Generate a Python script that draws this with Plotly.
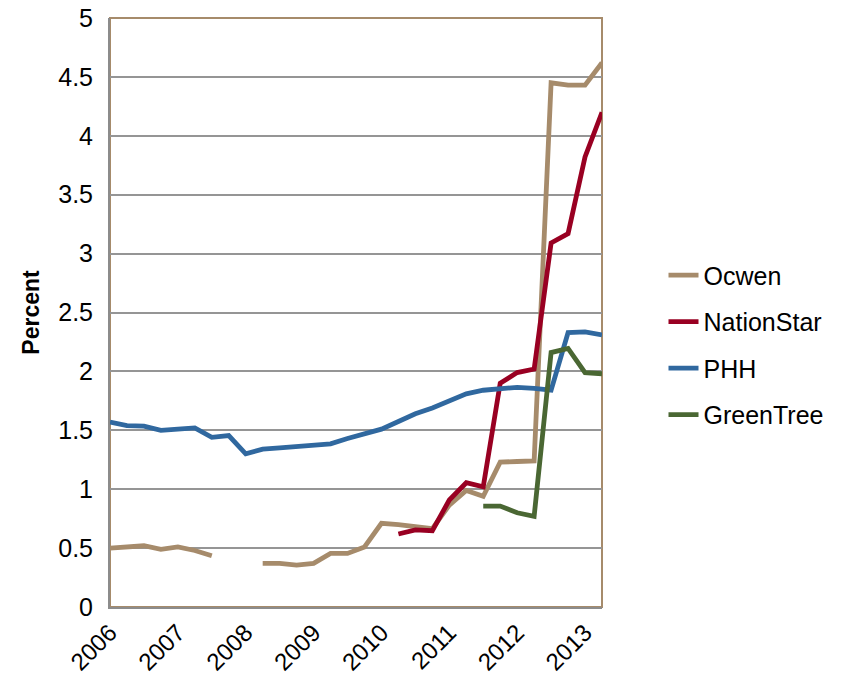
import plotly.graph_objects as go

years = list(range(2006, 2014))
quarters = [f"{y} Q{q}" for y in years for q in range(1, 5)][:30]
year_ticks = [f"{y} Q1" for y in years]
year_labels = [str(y) for y in years]

ocwen = [0.50, 0.51, 0.52, 0.49, 0.51, 0.48, 0.435, None, None, 0.37,
         0.37, 0.355, 0.37, 0.455, 0.455, 0.51, 0.71, 0.70, 0.68, 0.665,
         0.865, 0.99, 0.94, 1.23, 1.235, 1.24, 4.45, 4.43, 4.43, 4.62]
nationstar = [None] * 17 + [0.62, 0.655, 0.648, 0.908, 1.055, 1.02, 1.90,
                            1.99, 2.02, 3.09, 3.17, 3.82, 4.20]
phh = [1.57, 1.54, 1.535, 1.50, 1.51, 1.52, 1.44, 1.455, 1.30, 1.34,
       1.35, 1.36, 1.375, 1.385, 1.43, 1.47, 1.51, 1.575, 1.64, 1.69,
       1.75, 1.81, 1.84, 1.855, 1.865, 1.855, 1.84, 2.33, 2.335, 2.31]
greentree = [None] * 22 + [0.857, 0.857, 0.80, 0.77, 2.16, 2.195, 1.99, 1.98]

series = [
    ("Ocwen", ocwen, "#A68B6B"),
    ("NationStar", nationstar, "#990022"),
    ("PHH", phh, "#30689F"),
    ("GreenTree", greentree, "#4A6733"),
]

fig = go.Figure()
for name, vals, color in series:
    fig.add_trace(go.Scatter(
        x=quarters, y=vals, name=name, mode="lines",
        line=dict(color=color, width=4.8),
        connectgaps=False, legendgroup=name,
    ))

font = "Liberation Sans, Arial, sans-serif"
fig.update_layout(
    width=861, height=683,
    margin=dict(l=110, r=259, t=18, b=76),
    paper_bgcolor="white", plot_bgcolor="white",
    font=dict(family=font, size=25, color="black"),
    showlegend=True,
    legend=dict(x=1.125, y=0.602, xanchor="left", yanchor="top",
                font=dict(size=25), tracegroupgap=11,
                bgcolor="rgba(0,0,0,0)"),
    xaxis=dict(
        type="category", categoryorder="array", categoryarray=quarters,
        range=[0, 29], tickmode="array", tickvals=year_ticks,
        ticktext=year_labels, tickangle=-45, showgrid=False,
        showline=True, linecolor="#8C8C8C", linewidth=2,
        ticks="", zeroline=False, tickfont=dict(size=24),
        automargin=False,
    ),
    yaxis=dict(
        range=[0, 5], tickmode="array",
        tickvals=[0, 0.5, 1, 1.5, 2, 2.5, 3, 3.5, 4, 4.5, 5],
        ticktext=["0", "0.5", "1", "1.5", "2", "2.5", "3", "3.5", "4", "4.5", "5"],
        showgrid=True, gridcolor="#959595", gridwidth=1.5,
        showline=True, linecolor="#8C8C8C", linewidth=2,
        ticks="", zeroline=False, ticklabelstandoff=10,
        automargin=False,
        title=dict(text="<b>Percent</b>", standoff=12,
                   font=dict(size=23)),
    ),
)
fig.add_shape(type="rect", xref="paper", yref="paper", x0=0, x1=1, y0=0, y1=1,
              line=dict(color="#A68B6B", width=2), layer="below")

fig.write_html("out.html")
